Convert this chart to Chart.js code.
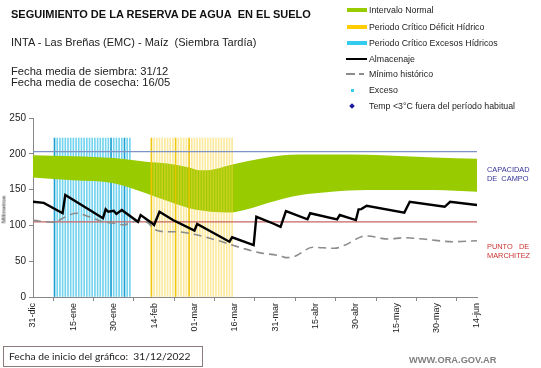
<!DOCTYPE html>
<html>
<head>
<meta charset="utf-8">
<script src="https://cdn.jsdelivr.net/npm/chart.js@4.4.1/dist/chart.umd.min.js"></script>
<style>
body { margin: 0; background: #fff; font-family: "Liberation Sans", Arial, sans-serif; }
#wrap { position: relative; width: 541px; height: 368px; overflow: hidden; }
#reserva { position: absolute; left: 0; top: 0; }
.t { position: absolute; white-space: nowrap; color: #111; }
.ley { position: absolute; white-space: nowrap; font-size: 8.8px; line-height: 10px; color: #222; left: 369px; }
.sw { position: absolute; }
</style>
</head>
<body>
<div id="wrap">
  <canvas id="reserva" width="541" height="368"></canvas>

  <div class="t" style="left:11px;top:8px;font-size:11px;font-weight:bold;line-height:13px;">SEGUIMIENTO DE LA RESERVA DE AGUA&nbsp; EN EL SUELO</div>
  <div class="t" style="left:11px;top:36px;font-size:11px;line-height:13px;color:#222;">INTA - Las Breñas (EMC) - Maíz&nbsp; (Siembra Tardía)</div>
  <div class="t" style="left:11px;top:65px;font-size:11.2px;line-height:13px;color:#222;">Fecha media de siembra: 31/12</div>
  <div class="t" style="left:11px;top:76px;font-size:11.2px;line-height:13px;color:#222;">Fecha media de cosecha: 16/05</div>

  <!-- leyenda -->
  <div class="sw" style="left:347px;top:8px;width:20px;height:4px;background:#99cc00;"></div>
  <div class="ley" style="top:5px;">Intervalo Normal</div>
  <div class="sw" style="left:347px;top:25px;width:20px;height:4px;background:#ffcc00;"></div>
  <div class="ley" style="top:22px;">Periodo Crítico Déficit Hídrico</div>
  <div class="sw" style="left:347px;top:41px;width:20px;height:4px;background:#33ccee;"></div>
  <div class="ley" style="top:38px;">Periodo Crítico Excesos Hídricos</div>
  <div class="sw" style="left:346px;top:58px;width:21px;height:2px;background:#000;"></div>
  <div class="ley" style="top:54px;">Almacenaje</div>
  <div class="sw" style="left:346px;top:73px;width:9px;height:1.5px;background:#8c8c8c;"></div>
  <div class="sw" style="left:359px;top:73px;width:5px;height:1.5px;background:#8c8c8c;"></div>
  <div class="ley" style="top:69px;">Mínimo histórico</div>
  <div class="sw" style="left:351px;top:89px;width:3px;height:3px;background:#33ccee;"></div>
  <div class="ley" style="top:85px;">Exceso</div>
  <div class="sw" style="left:350px;top:104px;width:4px;height:4px;background:#1a1aa0;transform:rotate(45deg);"></div>
  <div class="ley" style="top:101px;">Temp &lt;3°C fuera del período habitual</div>

  <!-- textos a la derecha -->
  <div class="t" style="left:487px;top:165px;font-size:7.4px;line-height:9px;color:#333399;">CAPACIDAD<br>DE&nbsp; CAMPO</div>
  <div class="t" style="left:487px;top:242px;font-size:7.4px;line-height:9px;color:#cc3333;">PUNTO&nbsp;&nbsp; DE<br>MARCHITEZ</div>

  <div class="t" style="left:-11px;top:206px;font-size:6px;line-height:7px;color:#222;transform:rotate(-90deg);width:30px;text-align:center;">Milímetros</div>

  <div style="position:absolute;left:3px;top:346px;width:198px;height:19px;border:1px solid #8b7b7b;"></div>
  <div class="t" style="left:9px;top:350px;font-family:Lato,'Open Sans',sans-serif;font-size:10.3px;line-height:13px;color:#222;">Fecha de inicio del gráfico:&nbsp; 31/12/2022</div>
  <div class="t" style="left:409px;top:355px;font-size:9.3px;font-weight:bold;line-height:11px;color:#808080;">WWW.ORA.GOV.AR</div>
</div>

<script>
// etiquetas del eje x (cada 15 días desde el 31-dic)
const fechaTicks = ['31-dic', '15-ene', '30-ene', '14-feb', '01-mar', '16-mar',
                    '31-mar', '15-abr', '30-abr', '15-may', '30-may', '14-jun'];
const diaFinal = 165;

// intervalo normal (banda verde)
const bandaDias = [0, 15, 30, 42, 50, 58, 62, 66, 73, 80, 87, 99, 111, 124, 136, 149, 165];
const bandaSup  = [198, 196.5, 194, 189, 186.5, 181, 177, 177.5, 184, 190, 195, 199, 199, 198.5, 197, 195, 193];
const bandaInf  = [167, 163, 159, 145, 134, 124, 121, 119, 118, 123, 131, 142, 147, 149.5, 149.5, 149.5, 147];

// almacenaje
const almDias    = [0, 4, 11, 12, 26, 27, 28, 30, 31, 33, 39, 40, 44, 45, 47, 52, 60, 61,
                    73, 74, 82, 83, 89, 92, 94, 102, 103, 113, 114, 120, 121, 122, 124,
                    138, 140, 153, 155, 165];
const almValores = [133, 131.5, 117, 142.5, 110, 122.5, 119, 120.5, 116, 121.5, 105, 114.5, 103.8, 100.5, 119, 107.5, 92.6, 102,
                    77.2, 83.4, 72.6, 112, 103, 98, 120, 108.5, 117, 108.5, 114.5, 107.5, 122.5, 122.8, 127.5,
                    117.8, 133, 126, 133, 128.5];

// mínimo histórico
const minDias    = [0, 8, 11, 16, 21, 26, 30, 34, 36, 40, 43, 45, 50, 53, 58, 68, 78, 84, 92, 94,
                    97, 104, 112, 116, 122, 124, 132, 138, 146, 156, 165];
const minValores = [107, 104.3, 110, 117, 112, 105, 103, 100.5, 103.8, 106.6, 103, 94.5, 91.2, 91.2, 89, 79.6, 68, 62, 57.3, 55,
                    56.3, 69.4, 68, 72.6, 84.2, 85.2, 81, 82.8, 80.6, 77.2, 78.6];

// periodos criticos (lineas verticales)
const excesoDias   = [8, 9, 10, 11, 12, 13, 14, 15, 16, 17, 18, 19, 20, 21, 22, 23, 24, 25, 26, 27,
                      28, 29, 30, 31, 32, 33, 34, 35, 36];
const excesoOscuros = [8, 29, 34];
const deficitDias  = [44, 45, 46, 47, 48, 49, 50, 51, 52, 53, 54, 55, 56, 57, 58, 59, 60, 61, 62, 63,
                      64, 65, 66, 67, 68, 69, 70, 71, 72, 73, 74];
const deficitOscuros = [44, 53, 58];
const alturaPeriodo = 222;

const capacidadCampo = 203;
const puntoMarchitez = 105;

function pares(xs, ys) {
    return xs.map((d, i) => ({ x: d, y: ys[i] }));
}
function constante(valor, dias) {
    return dias.map(d => ({ x: d, y: valor }));
}

const ctx = document.getElementById('reserva');
new Chart(ctx, {
    type: 'line',
    data: {
        datasets: [
            {
                label: 'Almacenaje',
                data: pares(almDias, almValores),
                borderColor: '#000',
                borderWidth: 2.4,
                pointRadius: 0,
                tension: 0,
                order: 1
            },
            {
                label: 'Mínimo histórico',
                data: pares(minDias, minValores),
                borderColor: '#8c8c8c',
                borderWidth: 1.6,
                borderDash: [8, 5],
                pointRadius: 0,
                cubicInterpolationMode: 'monotone',
                order: 2
            },
            {
                label: 'Capacidad de campo',
                data: constante(capacidadCampo, [0, diaFinal]),
                borderColor: '#7f93c8',
                borderWidth: 1.2,
                pointRadius: 0,
                order: 3
            },
            {
                label: 'Punto de marchitez',
                data: constante(puntoMarchitez, [0, diaFinal]),
                borderColor: '#c86464',
                borderWidth: 1.2,
                pointRadius: 0,
                order: 3
            },
            {
                type: 'bar',
                label: 'Periodo Crítico Déficit Hídrico',
                data: constante(alturaPeriodo, deficitDias),
                backgroundColor: c => deficitOscuros.includes(c.raw && c.raw.x) ? 'rgba(240,196,0,0.95)' : 'rgba(248,212,60,0.5)',
                barThickness: 1,
                grouped: false,
                order: 6
            },
            {
                label: 'Intervalo inferior',
                data: pares(bandaDias, bandaInf),
                borderWidth: 0,
                borderColor: 'rgba(0,0,0,0)',
                pointRadius: 0,
                cubicInterpolationMode: 'monotone',
                order: 8
            },
            {
                label: 'Intervalo Normal',
                data: pares(bandaDias, bandaSup),
                borderWidth: 0,
                borderColor: 'rgba(0,0,0,0)',
                backgroundColor: '#99cc00',
                pointRadius: 0,
                cubicInterpolationMode: 'monotone',
                fill: '-1',
                order: 8
            },
            {
                type: 'bar',
                label: 'Periodo Crítico Excesos Hídricos',
                data: constante(alturaPeriodo, excesoDias),
                backgroundColor: c => excesoOscuros.includes(c.raw && c.raw.x) ? '#1aa0d2' : 'rgba(70,196,232,0.75)',
                barThickness: 1,
                grouped: false,
                order: 10
            }
        ]
    },
    options: {
        responsive: false,
        animation: false,
        layout: {
            padding: { left: 0, top: 118, right: 64, bottom: 0 }
        },
        plugins: {
            legend: { display: false },
            tooltip: { enabled: false }
        },
        scales: {
            x: {
                type: 'linear',
                min: 0,
                max: diaFinal,
                offset: false,
                afterFit: s => { s.height = 71; },
                ticks: {
                    stepSize: 15,
                    autoSkip: false,
                    minRotation: 90,
                    maxRotation: 90,
                    padding: 2,
                    color: '#222',
                    font: { family: '"Liberation Sans", Arial, sans-serif', size: 9 },
                    callback: (v) => fechaTicks[v / 15]
                },
                grid: { drawOnChartArea: false, tickLength: 4, color: '#888' },
                border: { color: '#888' }
            },
            y: {
                min: 0,
                max: 250,
                afterFit: s => { s.width = 33; },
                ticks: {
                    stepSize: 50,
                    padding: 3,
                    color: '#222',
                    font: { family: '"Liberation Sans", Arial, sans-serif', size: 10 }
                },
                grid: { drawOnChartArea: false, tickLength: 4, color: '#888' },
                border: { color: '#888' }
            }
        }
    }
});
</script>
</body>
</html>
